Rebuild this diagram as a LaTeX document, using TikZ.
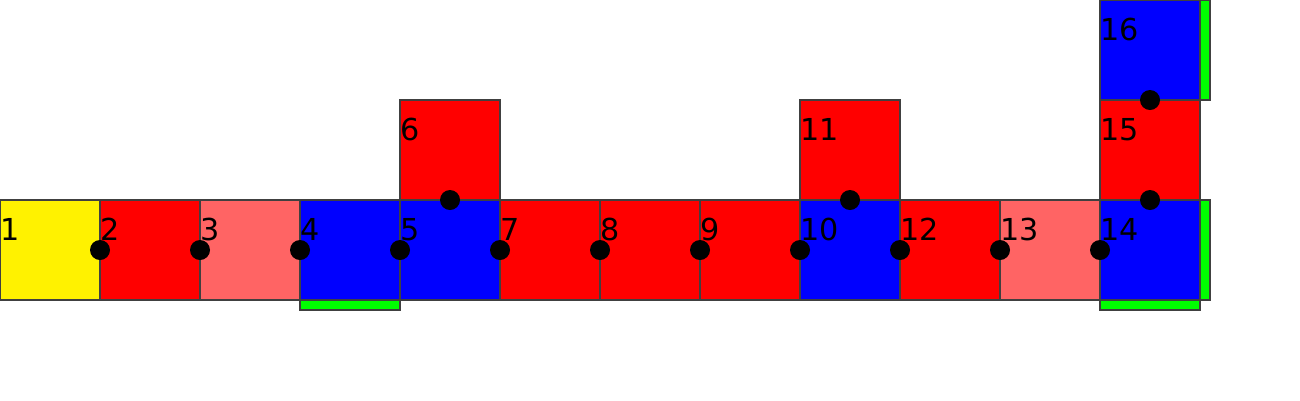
\documentclass[tikz,border=0pt]{standalone}
\usepackage{fontspec}
\setmainfont{DejaVu Sans}
\usetikzlibrary{positioning}
\definecolor{lightred}{HTML}{FF6464}

\begin{document}
\begin{tikzpicture}[
    node distance=0pt,
    cell/.style={draw=black!75, line width=0.35pt, fill=#1, minimum size=1cm, inner sep=0pt, outer sep=0pt},
    hstrip/.style={draw=black!75, line width=0.35pt, fill=green, minimum width=1cm, minimum height=1mm, inner sep=0pt, outer sep=0pt},
    vstrip/.style={draw=black!75, line width=0.35pt, fill=green, minimum width=1mm, minimum height=1cm, inner sep=0pt, outer sep=0pt},
    num/.style={anchor=base west, inner sep=0pt, yshift=-4mm, font=\fontsize{8.6}{10}\selectfont},
    dot/.style={fill=black}
]
\useasboundingbox (0,0) rectangle (13,4);
\node[cell=yellow, label={[num]north west:1}] (c1) at (0.5,1.5) {};
\node[cell=red, label={[num]north west:2}, right=of c1] (c2) {};
\node[cell=lightred, label={[num]north west:3}, right=of c2] (c3) {};
\node[cell=blue, label={[num]north west:4}, right=of c3] (c4) {};
\node[cell=blue, label={[num]north west:5}, right=of c4] (c5) {};
\node[cell=red, label={[num]north west:6}, above=of c5] (c6) {};
\node[cell=red, label={[num]north west:7}, right=of c5] (c7) {};
\node[cell=red, label={[num]north west:8}, right=of c7] (c8) {};
\node[cell=red, label={[num]north west:9}, right=of c8] (c9) {};
\node[cell=blue, label={[num]north west:10}, right=of c9] (c10) {};
\node[cell=red, label={[num]north west:11}, above=of c10] (c11) {};
\node[cell=red, label={[num]north west:12}, right=of c10] (c12) {};
\node[cell=lightred, label={[num]north west:13}, right=of c12] (c13) {};
\node[cell=blue, label={[num]north west:14}, right=of c13] (c14) {};
\node[cell=red, label={[num]north west:15}, above=of c14] (c15) {};
\node[cell=blue, label={[num]north west:16}, above=of c15] (c16) {};
% green edges
\node[hstrip, below=of c4] (g4) {};
\node[hstrip, below=of c14] (g14) {};
\node[vstrip, right=of c14] (v14) {};
\node[vstrip, right=of c16] (v16) {};
% joints
\foreach \p in {c2.west, c3.west, c4.west, c5.west, c7.west, c8.west, c9.west, c10.west, c12.west, c13.west, c14.west, c6.south, c11.south, c15.south, c16.south}
    \fill[dot] (\p) circle (0.1);
\end{tikzpicture}
\end{document}
